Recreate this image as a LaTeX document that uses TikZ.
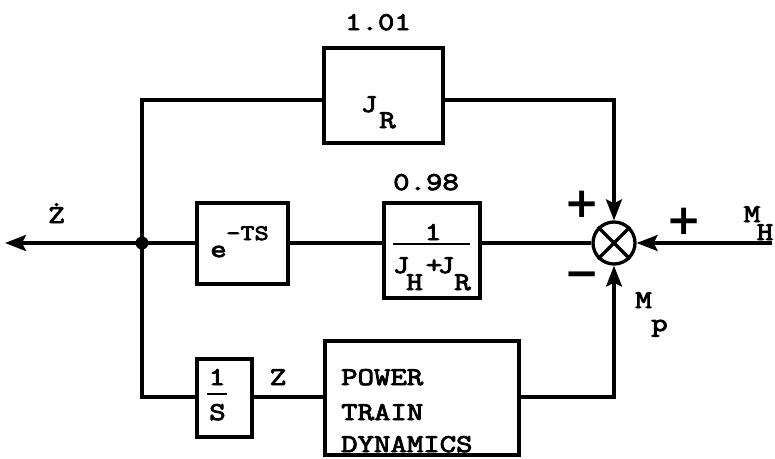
\documentclass[tikz,border=0pt]{standalone}
\usepackage{fontspec}
\newfontfamily\tw{Latin Modern Mono}[FakeStretch=1.25,FakeBold=3.5]
\newfontfamily\signfont{DejaVu Sans}
\usetikzlibrary{arrows.meta}
\begin{document}
\begin{tikzpicture}[x=1pt,y=-1pt,
  wire/.style={line width=3.3pt},
  blk/.style={draw, line width=3.3pt, inner sep=0pt},
  txt/.style={font=\tw\fontsize{25.5}{30}\selectfont, inner sep=0pt, anchor=base},
  sup/.style={font=\tw\fontsize{22}{26}\selectfont, inner sep=0pt, anchor=base},
  sgn/.style={font=\signfont\bfseries\fontsize{42}{46}\selectfont, inner sep=0pt},
  arr/.style={-{Stealth[length=21pt,width=16pt,inset=4pt]}}]
\useasboundingbox (0,0) rectangle (775,458);

% blocks
\node[blk, minimum width=119pt, minimum height=95pt] (jr) at (383.5,95.5) {};
\node[blk, minimum width=91pt, minimum height=81pt] (ets) at (242.5,243.5) {};
\node[blk, minimum width=96pt, minimum height=95pt] (frac) at (432,250.5) {};
\node[blk, minimum width=55pt, minimum height=78pt] (inte) at (224.5,398) {};
\node[blk, minimum width=194pt, minimum height=114pt] (ptd) at (422,398) {};
\node[draw, circle, line width=3.3pt, minimum size=42pt, inner sep=0pt] (sum) at (614,243) {};
\draw[wire] (sum.north west) -- (sum.south east) (sum.north east) -- (sum.south west);
\node[circle, fill, minimum size=13pt, inner sep=0pt] (jn) at (142,243) {};

% coordinates
\coordinate (zout) at (5,243);
\coordinate (tl) at (142,100);
\coordinate (tr) at (614,100);
\coordinate (bl) at (142,397);
\coordinate (br) at (614,397);
\coordinate (mh) at (772,243);

% wires
\draw[wire,arr] (jn.center) -- (zout);
\draw[wire] (jn.center) -- (ets.west |- jn);
\draw[wire] (ets.east |- jn) -- (frac.west |- jn);
\draw[wire] (frac.east |- jn) -- (sum.west);
\draw[wire] (jn.center) -- (tl) -- (jr.west |- tl);
\draw[wire,arr] (jr.east |- tl) -- (tr) -- (sum.north);
\draw[wire] (jn.center) -- (bl) -- (inte.west |- bl);
\draw[wire] (inte.east |- bl) -- (ptd.west |- bl);
\draw[wire,arr] (ptd.east |- bl) -- (br) -- (sum.south);
\draw[wire,arr] (mh) -- (sum.east);

% texts
\node[txt] (t101) at (378,30) {1.01};
\node[txt] (t098) at (426,190) {0.98};
\node[txt] (jrJ) at (369,112) {J};
\node[txt] (jrR) at (387.5,128) {R};
\node[txt] (ee) at (218.5,257) {e};
\node[sup] (ets2) at (247.5,240) {-TS};
\node[txt] (fn) at (433,240) {1};
\draw[line width=2.6pt] (393,244) -- (470,244);
\node[txt] (fd1) at (401,273) {J};
\node[txt] (fd2) at (414.5,290) {H};
\node[txt] (fd3) at (434,273) {+};
\node[txt] (fd4) at (446,273) {J};
\node[txt] (fd5) at (462.5,290) {R};
\node[txt] (zdot) at (56.5,223) {Ż};
\node[txt] (zz) at (278,385) {Z};
\node[txt] (in1) at (217,385) {1};
\draw[line width=2.4pt] (207,394) -- (227,394);
\node[txt] (inS) at (217.5,420) {S};
\node[txt, anchor=base west] (p1) at (341,385) {POWER};
\node[txt, anchor=base west] (p2) at (341,420) {TRAIN};
\node[txt, anchor=base west] (p3) at (341,452) {DYNAMICS};
\node[txt] (mhM) at (752,222) {M};
\node[txt] (mhH) at (765,240) {H};
\node[txt] (mpM) at (643.5,308) {M};
\node[txt] (mpp) at (659.5,331) {p};
\node[sgn] (s1) at (582,204) {+};
\node[sgn] (s2) at (684,221) {+};
\node[sgn] (s3) at (582,280) {−};
\end{tikzpicture}
\end{document}
